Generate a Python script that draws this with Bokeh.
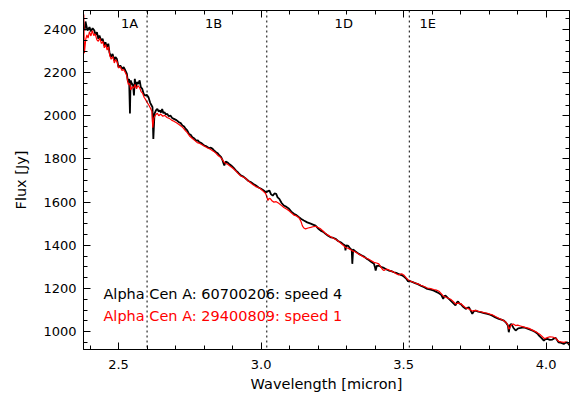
from bokeh.plotting import figure
from bokeh.models import (LinearAxis, SingleIntervalTicker, NumeralTickFormatter,
                          CustomJSTickFormatter, Span, Label, Range1d)
from bokeh.embed import file_html
from bokeh.resources import INLINE

# ---- data: black spectrum (speed 4, AOT 60700206) ----
wave_speed4 = [2.381, 2.384, 2.387, 2.391, 2.398, 2.403, 2.409, 2.415, 2.419, 2.424,
               2.429, 2.433, 2.439, 2.444, 2.450, 2.454, 2.459, 2.464, 2.468, 2.473,
               2.479, 2.485, 2.489, 2.494, 2.500, 2.506, 2.512, 2.518, 2.524, 2.529,
               2.533, 2.537, 2.540, 2.542, 2.547, 2.551, 2.554, 2.557, 2.561, 2.564,
               2.569, 2.574, 2.578, 2.583, 2.588, 2.594, 2.599, 2.605, 2.611, 2.615,
               2.619, 2.622, 2.626, 2.631, 2.636, 2.641, 2.645, 2.649, 2.653, 2.657,
               2.661, 2.666, 2.671, 2.676, 2.682, 2.688, 2.694, 2.703, 2.712, 2.718,
               2.724, 2.730, 2.735, 2.741, 2.747, 2.753, 2.759, 2.766, 2.772, 2.778,
               2.783, 2.792, 2.801, 2.809, 2.818, 2.824, 2.830, 2.836, 2.842, 2.848,
               2.854, 2.860, 2.865, 2.868, 2.871, 2.876, 2.881, 2.888, 2.895, 2.903,
               2.912, 2.920, 2.930, 2.938, 2.947, 2.956, 2.965, 2.973, 2.982, 2.991,
               3.000, 3.008, 3.017, 3.023, 3.029, 3.035, 3.041, 3.047, 3.053, 3.058,
               3.064, 3.072, 3.080, 3.089, 3.098, 3.106, 3.115, 3.124, 3.133, 3.141,
               3.150, 3.162, 3.174, 3.182, 3.191, 3.200, 3.209, 3.218, 3.226, 3.235,
               3.244, 3.252, 3.261, 3.270, 3.279, 3.288, 3.294, 3.296, 3.299, 3.306,
               3.314, 3.318, 3.320, 3.323, 3.330, 3.343, 3.352, 3.361, 3.370, 3.378,
               3.387, 3.396, 3.400, 3.402, 3.406, 3.413, 3.420, 3.431, 3.440, 3.448,
               3.457, 3.466, 3.474, 3.483, 3.492, 3.501, 3.510, 3.516, 3.519, 3.530,
               3.540, 3.550, 3.560, 3.572, 3.583, 3.595, 3.606, 3.615, 3.624, 3.632,
               3.639, 3.643, 3.647, 3.656, 3.665, 3.674, 3.682, 3.687, 3.691, 3.696,
               3.700, 3.709, 3.718, 3.724, 3.729, 3.735, 3.741, 3.747, 3.753, 3.762,
               3.770, 3.782, 3.794, 3.803, 3.811, 3.822, 3.834, 3.843, 3.852, 3.860,
               3.866, 3.869, 3.873, 3.878, 3.885, 3.893, 3.902, 3.911, 3.920, 3.928,
               3.937, 3.946, 3.955, 3.963, 3.970, 3.975, 3.984, 3.992, 3.998, 4.004,
               4.013, 4.022, 4.028, 4.033, 4.039, 4.044, 4.053, 4.062, 4.068, 4.074,
               4.080, 4.084]
flux_speed4 = [2395, 2437, 2419, 2395, 2411, 2391, 2406, 2395, 2375, 2388,
               2357, 2372, 2349, 2357, 2326, 2341, 2318, 2334, 2295, 2272,
               2287, 2256, 2272, 2264, 2225, 2233, 2218, 2225, 2210, 2195,
               2156, 2171, 2011, 2164, 2148, 2140, 2094, 2171, 2133, 2156,
               2148, 2164, 2133, 2125, 2102, 2094, 2097, 2086, 2060, 2050,
               2040, 1893, 2009, 2025, 2032, 2020, 2025, 2015, 2032, 2012,
               2017, 2006, 2009, 1998, 2001, 1990, 1986, 1980, 1970, 1966,
               1955, 1950, 1940, 1932, 1916, 1912, 1901, 1895, 1885, 1886,
               1878, 1872, 1862, 1858, 1850, 1852, 1847, 1838, 1831, 1826,
               1816, 1808, 1793, 1780, 1770, 1788, 1785, 1777, 1770, 1760,
               1746, 1736, 1723, 1718, 1708, 1698, 1692, 1684, 1677, 1668,
               1662, 1655, 1646, 1650, 1654, 1636, 1630, 1640, 1638, 1622,
               1615, 1596, 1584, 1578, 1569, 1556, 1546, 1540, 1530, 1522,
               1515, 1506, 1500, 1496, 1491, 1478, 1468, 1462, 1453, 1444,
               1437, 1435, 1430, 1420, 1414, 1405, 1400, 1376, 1400, 1397,
               1383, 1380, 1314, 1380, 1373, 1360, 1354, 1348, 1338, 1332,
               1322, 1314, 1296, 1283, 1305, 1306, 1300, 1295, 1288, 1283,
               1280, 1275, 1272, 1267, 1262, 1255, 1244, 1232, 1236, 1230,
               1225, 1220, 1213, 1206, 1198, 1194, 1190, 1184, 1178, 1170,
               1152, 1165, 1167, 1155, 1144, 1132, 1121, 1135, 1140, 1130,
               1128, 1115, 1105, 1110, 1113, 1098, 1082, 1095, 1097, 1092,
               1090, 1086, 1082, 1078, 1074, 1066, 1059, 1055, 1051, 1040,
               1028, 997, 1030, 1036, 1018, 1005, 1015, 1017, 1020, 1017,
               1012, 1008, 1003, 997, 990, 981, 970, 958, 965, 966,
               962, 963, 968, 971, 960, 950, 948, 943, 948, 950,
               940, 935]

# ---- data: red spectrum (speed 1, AOT 29400809) ----
wave_speed1 = [2.378, 2.380, 2.385, 2.389, 2.393, 2.398, 2.403, 2.408, 2.413, 2.418,
               2.424, 2.429, 2.434, 2.440, 2.445, 2.450, 2.455, 2.460, 2.465, 2.469,
               2.474, 2.480, 2.485, 2.490, 2.495, 2.500, 2.506, 2.512, 2.518, 2.524,
               2.529, 2.534, 2.539, 2.543, 2.548, 2.553, 2.558, 2.563, 2.568, 2.574,
               2.579, 2.584, 2.590, 2.595, 2.600, 2.606, 2.612, 2.617, 2.620, 2.624,
               2.630, 2.636, 2.641, 2.648, 2.655, 2.662, 2.670, 2.678, 2.686, 2.694,
               2.703, 2.712, 2.720, 2.728, 2.735, 2.741, 2.750, 2.759, 2.768, 2.776,
               2.785, 2.794, 2.803, 2.811, 2.822, 2.834, 2.842, 2.850, 2.858, 2.864,
               2.870, 2.875, 2.884, 2.893, 2.902, 2.911, 2.920, 2.928, 2.937, 2.946,
               2.955, 2.963, 2.972, 2.981, 2.990, 2.998, 3.008, 3.016, 3.020, 3.024,
               3.028, 3.033, 3.039, 3.045, 3.053, 3.062, 3.071, 3.080, 3.089, 3.098,
               3.106, 3.115, 3.124, 3.133, 3.140, 3.145, 3.150, 3.156, 3.165, 3.174,
               3.182, 3.191, 3.200, 3.209, 3.218, 3.226, 3.235, 3.244, 3.252, 3.261,
               3.270, 3.279, 3.288, 3.296, 3.305, 3.314, 3.320, 3.326, 3.335, 3.343,
               3.352, 3.361, 3.370, 3.378, 3.387, 3.396, 3.405, 3.413, 3.420, 3.426,
               3.431, 3.440, 3.448, 3.457, 3.466, 3.474, 3.483, 3.492, 3.497, 3.501,
               3.510, 3.519, 3.530, 3.540, 3.550, 3.560, 3.572, 3.583, 3.595, 3.606,
               3.615, 3.624, 3.632, 3.639, 3.650, 3.665, 3.674, 3.682, 3.691, 3.700,
               3.709, 3.718, 3.729, 3.741, 3.747, 3.753, 3.762, 3.770, 3.782, 3.794,
               3.803, 3.811, 3.822, 3.834, 3.843, 3.852, 3.860, 3.866, 3.869, 3.872,
               3.878, 3.885, 3.893, 3.900, 3.910, 3.920, 3.930, 3.940, 3.950, 3.963,
               3.972, 3.980, 3.988, 3.995, 4.000, 4.004, 4.013, 4.022, 4.028, 4.033,
               4.039, 4.044, 4.053, 4.062, 4.070, 4.078, 4.084]
flux_speed1 = [2470, 2290, 2355, 2375, 2360, 2390, 2370, 2395, 2372, 2380,
               2352, 2345, 2360, 2335, 2345, 2315, 2330, 2305, 2320, 2280,
               2262, 2275, 2245, 2260, 2250, 2222, 2228, 2210, 2215, 2200,
               2185, 2145, 2150, 2120, 2135, 2128, 2145, 2125, 2140, 2130,
               2112, 2105, 2085, 2075, 2062, 2050, 2035, 2020, 1945, 1990,
               2005, 2012, 2000, 2008, 1998, 2002, 1992, 1988, 1980, 1975,
               1968, 1960, 1952, 1942, 1930, 1922, 1905, 1895, 1885, 1876,
               1872, 1865, 1858, 1852, 1845, 1835, 1826, 1815, 1808, 1797,
               1785, 1780, 1774, 1765, 1756, 1745, 1732, 1722, 1716, 1710,
               1698, 1690, 1680, 1672, 1668, 1662, 1650, 1640, 1625, 1607,
               1618, 1615, 1605, 1600, 1602, 1595, 1585, 1575, 1568, 1560,
               1550, 1540, 1536, 1528, 1510, 1490, 1480, 1476, 1480, 1483,
               1486, 1488, 1482, 1476, 1465, 1455, 1447, 1440, 1434, 1428,
               1420, 1410, 1400, 1390, 1386, 1380, 1374, 1372, 1365, 1358,
               1352, 1345, 1340, 1335, 1328, 1321, 1318, 1314, 1300, 1288,
               1283, 1290, 1286, 1280, 1275, 1268, 1262, 1268, 1265, 1262,
               1248, 1236, 1231, 1225, 1221, 1215, 1209, 1202, 1199, 1195,
               1192, 1187, 1176, 1165, 1158, 1150, 1140, 1128, 1132, 1130,
               1120, 1110, 1105, 1095, 1097, 1098, 1094, 1092, 1088, 1085,
               1081, 1078, 1070, 1062, 1056, 1050, 1042, 1030, 1012, 1015,
               1032, 1035, 1028, 1030, 1026, 1022, 1018, 1015, 1008, 1000,
               992, 985, 975, 967, 970, 972, 976, 975, 972, 970,
               962, 955, 952, 950, 952, 947, 945]

# ---- band boundaries and band names ----
band_edges = [2.60, 3.02, 3.52]
band_names = ["1A", "1B", "1D", "1E"]
band_label_x = [2.539, 2.833, 3.290, 3.585]

legend_texts = ["Alpha Cen A: 60700206: speed 4", "Alpha Cen A: 29400809: speed 1"]
series_colors = ["#000000", "#ff0000"]

FONT = "DejaVu Sans"

p = figure(width=576, height=395, output_backend="svg", toolbar_location=None,
           x_range=Range1d(2.377, 4.082), y_range=Range1d(917, 2488),
           x_axis_label="Wavelength [micron]", y_axis_label="Flux [Jy]",
           min_border_left=83, min_border_right=7, min_border_top=10,
           min_border_bottom=46)
p.background_fill_color = "white"
p.border_fill_color = "white"
p.xgrid.visible = False
p.ygrid.visible = False
p.outline_line_color = "black"
p.outline_line_width = 1

xt = SingleIntervalTicker(interval=0.5, num_minor_ticks=5)
yt = SingleIntervalTicker(interval=200, num_minor_ticks=4)

def style_axis(ax):
    ax.major_tick_in = 7
    ax.major_tick_out = 0
    ax.minor_tick_in = 4
    ax.minor_tick_out = 0
    ax.axis_line_color = "black"
    ax.major_tick_line_color = "black"
    ax.minor_tick_line_color = "black"
    ax.axis_line_width = 1
    ax.major_label_text_font = FONT
    ax.major_label_text_font_size = "13px"
    ax.major_label_text_color = "black"
    ax.axis_label_text_font = FONT
    ax.axis_label_text_font_size = "14.5px"
    ax.axis_label_text_font_style = "normal"
    ax.axis_label_text_color = "black"

p.xaxis.ticker = xt
p.xaxis.formatter = NumeralTickFormatter(format="0.0")
p.yaxis.ticker = yt
style_axis(p.xaxis[0])
style_axis(p.yaxis[0])
p.xaxis.major_label_standoff = 10
p.xaxis.axis_label_standoff = 4
p.yaxis.major_label_standoff = 7
p.yaxis.axis_label_standoff = 11

blank = CustomJSTickFormatter(code="return ''")
top = LinearAxis(ticker=xt, formatter=blank)
style_axis(top)
top.major_label_standoff = 0
p.add_layout(top, "above")
right = LinearAxis(ticker=yt, formatter=blank)
style_axis(right)
right.major_label_standoff = 0
p.add_layout(right, "right")

p.line(wave_speed4, flux_speed4, line_color=series_colors[0], line_width=1.8)
p.line(wave_speed1, flux_speed1, line_color=series_colors[1], line_width=1.2)

for e in band_edges:
    p.add_layout(Span(location=e, dimension="height", line_color="black",
                      line_dash="2 3", line_width=1))

for name, bx in zip(band_names, band_label_x):
    p.add_layout(Label(x=bx, y=2488, y_offset=-20, text=name, text_align="center",
                       text_font=FONT, text_font_size="13px", text_color="black"))

for i, (t, c) in enumerate(zip(legend_texts, series_colors)):
    p.add_layout(Label(x=2.447, y=1200, y_offset=-22 * i - 6, text=t, text_align="left",
                       text_font=FONT, text_font_size="14.5px", text_color=c,
                       text_baseline="middle"))

open("out.html", "w").write(file_html(p, INLINE))
